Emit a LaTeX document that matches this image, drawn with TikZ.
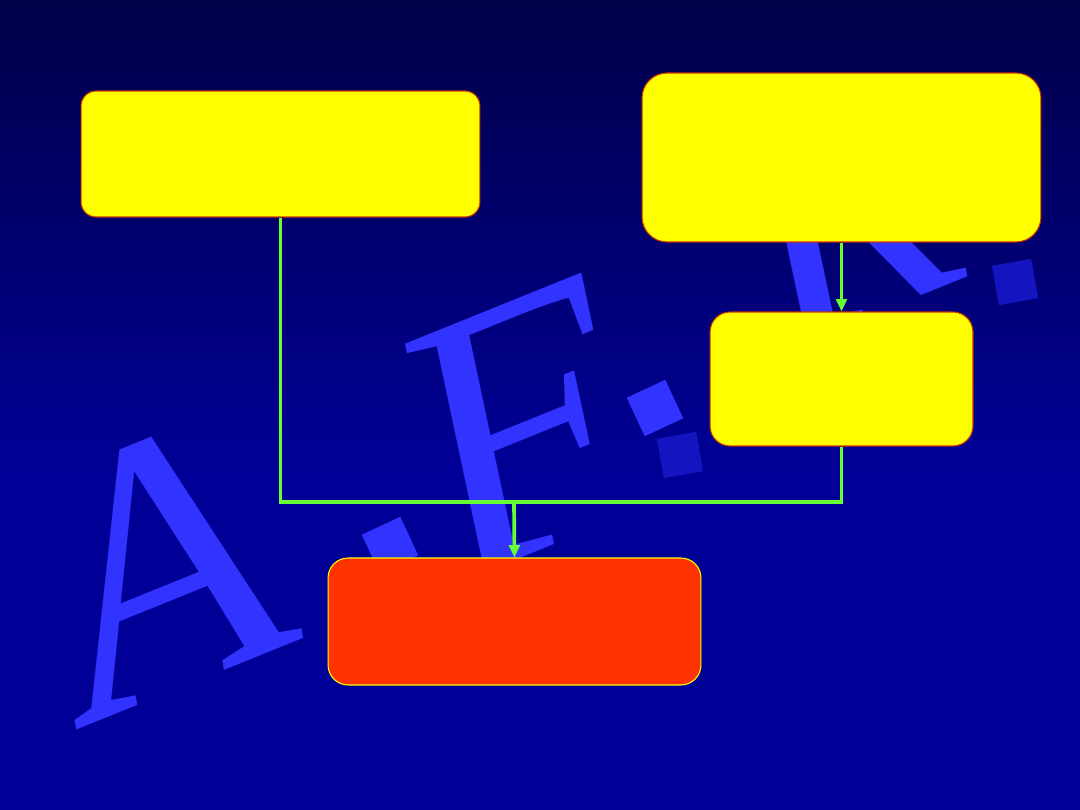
\documentclass[tikz,border=0pt]{standalone}
\usepackage{xcolor}
\usepackage{tikz}
\usepackage{fontspec}
\newfontfamily\markfont{Liberation Serif}
\usetikzlibrary{positioning}
\usetikzlibrary{arrows.meta}
\definecolor{skytop}{RGB}{0,0,72}
\definecolor{skybot}{RGB}{0,0,150}
\definecolor{markblue}{RGB}{51,51,255}
\definecolor{boxedge}{RGB}{204,51,0}
\definecolor{hotred}{RGB}{255,51,0}
\definecolor{pureyellow}{RGB}{255,255,0}
\definecolor{flowgreen}{RGB}{102,255,51}
\begin{document}
\begin{tikzpicture}[x=0.02cm,y={(0,-0.02cm)},
    yellowbox/.style={rectangle,draw=boxedge,fill=pureyellow,line width=0.6pt,inner sep=0pt},
    redbox/.style={rectangle,draw=pureyellow,fill=hotred,line width=0.6pt,inner sep=0pt,rounded corners=0.4cm},
    flow/.style={draw=flowgreen,line width=2.1pt},
    flowarrow/.style={flow,-{Triangle[length=7pt,width=6pt]}},
    bigletter/.style={text=markblue,inner sep=0pt,anchor=base,rotate=22,font=\markfont\itshape\fontsize{210}{210}\selectfont},
    dotmark/.style={fill=markblue,minimum size=0.85cm,inner sep=0pt,rotate=25},
    shadowmark/.style={fill=markblue!40!skybot,minimum size=0.8cm,inner sep=0pt,rotate=10}]
  % background
  \useasboundingbox (0,0) rectangle (1080,810);
  \fill[skybot] (0,0) rectangle (1080,810);
  \shade[top color=skytop,bottom color=skybot] (0,0) rectangle (1080,470);
  % watermark letters
  \node[bigletter] (markA) at (200,680) {A};
  \node[dotmark] (dotA) at (390,545) {};
  \node[bigletter] (markF) at (565,540) {F};
  \node[dotmark] (dotF) at (655,408) {};
  \node[shadowmark] (shadeF) at (680,455) {};
  \node[bigletter,font=\markfont\itshape\fontsize{190}{190}\selectfont] (markR) at (880,312) {R};
  \node[shadowmark] (shadeR) at (1015,282) {};
  % boxes
  \node[yellowbox,rounded corners=0.3cm,minimum width=7.98cm,minimum height=2.52cm] (cause) at (280.5,154) {};
  \node[yellowbox,rounded corners=0.5cm,minimum width=7.98cm,minimum height=3.38cm] (source) at (841.5,157.5) {};
  \node[yellowbox,rounded corners=0.4cm,minimum width=5.26cm,minimum height=2.68cm] (stage) at (841.5,379) {};
  \node[redbox,minimum width=7.46cm,minimum height=2.54cm] (result) at (514.5,621.5) {};
  % connectors
  \coordinate (join) at (514,502);
  \draw[flow] (cause.south) |- (join) -| (stage.south);
  \draw[flowarrow] (join) -- (result.north);
  \draw[flowarrow] (source.south) -- (stage.north);
\end{tikzpicture}
\end{document}
